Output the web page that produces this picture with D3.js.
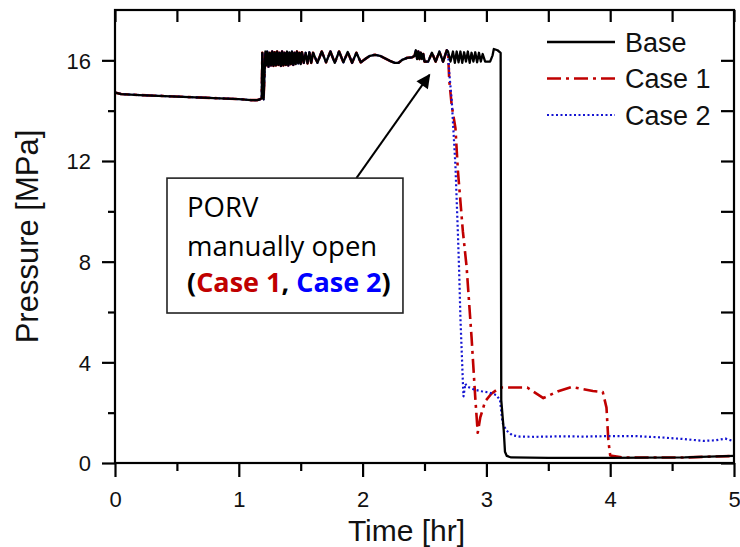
<!DOCTYPE html>
<html>
<head>
<meta charset="utf-8">
<script src="https://cdn.jsdelivr.net/npm/d3@7"></script>
<style>
  body { margin: 0; background: #ffffff; }
  svg { display: block; }
</style>
</head>
<body>
<svg id="chart" width="740" height="547"></svg>
<script>
// ---- data -----------------------------------------------------------------
const seriesNames  = ["Base", "Case 1", "Case 2"];
const seriesColors = ["#000000", "#c00000", "#1414d2"];

const xTickValues = [0, 1, 2, 3, 4, 5];
const xMinorTicks = [0.5, 1.5, 2.5, 3.5, 4.5];
const yTickValues = [0, 4, 8, 12, 16];
const yMinorTicks = [2, 6, 10, 14];

// [time (hr), pressure (MPa)] common to all three runs until the PORV opens
const sharedPressure = [
  [0, 14.72], [0.05, 14.66], [0.2, 14.62], [0.4, 14.58], [0.6, 14.54], [0.8, 14.5],
  [1.0, 14.46], [1.1, 14.42], [1.15, 14.42], [1.17, 14.45], [1.185, 14.5],
  [1.19, 16.3], [1.2, 14.45], [1.215, 16.35],
  [1.22, 15.8], [1.23, 16.35], [1.24, 15.75], [1.25, 16.3], [1.26, 15.8], [1.27, 16.35],
  [1.28, 15.78], [1.29, 16.32], [1.30, 15.8], [1.31, 16.35], [1.32, 15.82], [1.33, 16.3],
  [1.34, 15.78], [1.35, 16.35], [1.36, 15.8], [1.37, 16.3], [1.38, 15.82], [1.39, 16.35],
  [1.40, 15.8], [1.41, 16.32], [1.42, 15.85], [1.43, 16.35], [1.44, 15.82], [1.45, 16.3],
  [1.46, 15.85], [1.47, 16.35], [1.48, 15.88], [1.49, 16.3], [1.50, 15.85], [1.51, 16.32],
  [1.525, 15.9], [1.54, 16.3], [1.555, 15.88], [1.57, 16.32], [1.585, 15.9], [1.60, 16.3],
  [1.635, 15.9], [1.67, 16.35], [1.705, 15.92], [1.74, 16.35], [1.775, 15.9], [1.81, 16.35],
  [1.845, 15.92], [1.88, 16.33], [1.915, 15.9], [1.95, 16.3], [1.985, 15.92],
  [2.02, 16.05], [2.06, 16.18], [2.1, 16.22], [2.14, 16.18], [2.18, 16.08], [2.22, 15.98],
  [2.26, 15.9], [2.29, 15.9], [2.32, 16.02], [2.36, 16.1], [2.4, 16.12], [2.42, 16.18],
  [2.43, 16.4], [2.44, 16.05], [2.45, 16.35], [2.46, 16.05], [2.47, 16.3], [2.48, 16.05],
  [2.49, 16.25], [2.5, 15.95], [2.53, 15.95], [2.56, 16.3], [2.59, 15.95], [2.62, 16.35],
  [2.65, 15.95], [2.68, 16.4], [2.69, 16.35]
];

// Base: PORV stays closed, pressure cycles until the late depressurisation
const baseTail = [
  [2.71, 15.95], [2.73, 16.35], [2.745, 15.9], [2.76, 16.35], [2.775, 15.92], [2.79, 16.35],
  [2.805, 15.9], [2.82, 16.32], [2.835, 15.95], [2.85, 16.35], [2.865, 15.9], [2.88, 16.3],
  [2.895, 15.95], [2.91, 16.32], [2.925, 15.92], [2.94, 16.3], [2.955, 15.95], [2.97, 16.25],
  [2.99, 15.95], [3.03, 15.95], [3.05, 16.2], [3.06, 16.45], [3.09, 16.4], [3.115, 16.3],
  [3.12, 2.5], [3.14, 1.3], [3.15, 0.45], [3.165, 0.28], [3.2, 0.22], [3.5, 0.2],
  [4.0, 0.2], [4.6, 0.22], [5.0, 0.28]
];

// Case 1: PORV opened manually
const case1Tail = [
  [2.7, 15.2], [2.72, 14.2], [2.75, 13.3], [2.77, 11.6], [2.81, 9.2], [2.84, 7.8],
  [2.88, 5.0], [2.91, 2.6], [2.93, 1.2], [2.95, 1.8], [2.99, 2.45], [3.04, 2.75],
  [3.11, 3.0], [3.33, 3.0], [3.46, 2.58], [3.58, 2.85], [3.69, 3.02], [3.86, 2.86],
  [3.94, 2.82], [3.97, 2.2], [3.985, 0.9], [4.0, 0.3], [4.1, 0.22], [4.6, 0.22], [5.0, 0.28]
];

// Case 2: PORV opened manually
const case2Tail = [
  [2.7, 15.5], [2.72, 14.4], [2.75, 11.8], [2.77, 9.1], [2.78, 7.6], [2.79, 5.8],
  [2.8, 4.5], [2.81, 3.2], [2.815, 2.65], [2.83, 3.15], [2.84, 3.05], [2.9, 2.92],
  [2.96, 2.85], [3.02, 2.8], [3.08, 2.7], [3.11, 2.5], [3.13, 1.6], [3.16, 1.3],
  [3.21, 1.1], [3.27, 1.05], [3.4, 1.04], [3.6, 1.06], [3.8, 1.05], [4.0, 1.07],
  [4.2, 1.07], [4.4, 1.02], [4.6, 0.95], [4.75, 0.88], [4.85, 0.9], [4.93, 0.97], [5.0, 0.86]
];

const noteLines = ["PORV", "manually open"];

// ---- layout ---------------------------------------------------------------
const svg = d3.select("#chart");
const plot = { left: 115, right: 734, top: 10, bottom: 463 };

const x = d3.scaleLinear().domain([0, 5]).range([plot.left, plot.right]);
const y = d3.scaleLinear().domain([0, 18]).range([plot.bottom, plot.top]);

const tickFont = "'Liberation Sans', Arial, Helvetica, sans-serif";

// axes (ticks only; frame drawn separately)
function styleAxis(g) {
  g.select(".domain").remove();
  g.selectAll("line").attr("stroke", "#000").attr("stroke-width", 2.2);
}

svg.append("g").attr("transform", `translate(0,${plot.bottom})`)
  .call(d3.axisBottom(x).tickValues(xTickValues).tickSize(14).tickFormat(d3.format("d")))
  .call(styleAxis)
  .call(g => g.selectAll("text").attr("y", 44).attr("dy", 0)
    .attr("font-size", 22).attr("font-family", tickFont).attr("fill", "#111"));

svg.append("g").attr("transform", `translate(0,${plot.bottom})`)
  .call(d3.axisBottom(x).tickValues(xMinorTicks).tickSize(8).tickFormat(""))
  .call(styleAxis);

svg.append("g").attr("transform", `translate(${plot.left},0)`)
  .call(d3.axisLeft(y).tickValues(yTickValues).tickSize(13).tickFormat(d3.format("d")))
  .call(styleAxis)
  .call(g => g.selectAll("text").attr("x", -24).attr("dy", "0.36em")
    .attr("font-size", 22).attr("font-family", tickFont).attr("fill", "#111"));

svg.append("g").attr("transform", `translate(${plot.left},0)`)
  .call(d3.axisLeft(y).tickValues(yMinorTicks).tickSize(7).tickFormat(""))
  .call(styleAxis);

svg.append("g").attr("transform", `translate(0,${plot.top})`)
  .call(d3.axisTop(x).tickValues(xTickValues.concat(xMinorTicks)).tickSize(-12).tickFormat(""))
  .call(styleAxis);

svg.append("g").attr("transform", `translate(${plot.right},0)`)
  .call(d3.axisRight(y).tickValues(yTickValues.concat(yMinorTicks)).tickSize(-13).tickFormat(""))
  .call(styleAxis);

// axis titles
svg.append("text")
  .attr("x", (plot.left + plot.right) / 2 - 18).attr("y", 541)
  .attr("text-anchor", "middle")
  .attr("font-family", tickFont).attr("font-size", 30).attr("fill", "#111")
  .text("Time [hr]");

svg.append("text")
  .attr("transform", `translate(38,${(plot.top + plot.bottom) / 2}) rotate(-90)`)
  .attr("text-anchor", "middle")
  .attr("font-family", tickFont).attr("font-size", 31).attr("fill", "#111")
  .text("Pressure [MPa]");

// ---- series ---------------------------------------------------------------
svg.append("clipPath").attr("id", "plotClip")
  .append("rect")
  .attr("x", plot.left).attr("y", plot.top)
  .attr("width", plot.right - plot.left).attr("height", plot.bottom - plot.top);

const line = d3.line().x(d => x(d[0])).y(d => y(d[1]));
const series = [
  { name: seriesNames[1], data: sharedPressure.concat(case1Tail), color: seriesColors[1], width: 2.6, dash: "14,5,3,5" },
  { name: seriesNames[2], data: sharedPressure.concat(case2Tail), color: seriesColors[2], width: 2.2, dash: "2,2.5" },
  { name: seriesNames[0], data: sharedPressure.concat(baseTail),  color: seriesColors[0], width: 2.3, dash: null }
];

const lines = svg.append("g").attr("clip-path", "url(#plotClip)");
series.forEach(s => {
  lines.append("path")
    .datum(s.data)
    .attr("d", line)
    .attr("fill", "none")
    .attr("stroke", s.color)
    .attr("stroke-width", s.width)
    .attr("stroke-linejoin", "round")
    .attr("stroke-dasharray", s.dash);
});

// frame
svg.append("rect")
  .attr("x", plot.left).attr("y", plot.top)
  .attr("width", plot.right - plot.left).attr("height", plot.bottom - plot.top)
  .attr("fill", "none").attr("stroke", "#000").attr("stroke-width", 2.2);

// ---- legend ---------------------------------------------------------------
const legendOrder = [series[2], series[0], series[1]];
const legend = svg.append("g");
legendOrder.forEach((s, i) => {
  const ly = 42 + i * 36.5;
  legend.append("line")
    .attr("x1", 547).attr("x2", 615).attr("y1", ly).attr("y2", ly)
    .attr("stroke", s.color).attr("stroke-width", s.width)
    .attr("stroke-dasharray", s.dash);
  legend.append("text")
    .attr("x", 625).attr("y", ly + 9.5)
    .attr("font-family", tickFont).attr("font-size", 27).attr("fill", "#111")
    .text(s.name);
});

// ---- annotation -----------------------------------------------------------
svg.append("defs").append("marker")
  .attr("id", "arrowHead")
  .attr("viewBox", "0 0 10 10").attr("refX", 9).attr("refY", 5)
  .attr("markerWidth", 7.5).attr("markerHeight", 7).attr("markerUnits", "strokeWidth")
  .attr("orient", "auto")
  .append("path").attr("d", "M0,0 L10,5 L0,10 Z").attr("fill", "#000");

svg.append("line")
  .attr("x1", x(1.95)).attr("y1", y(11.32))
  .attr("x2", x(2.54)).attr("y2", y(15.42))
  .attr("stroke", "#000").attr("stroke-width", 2)
  .attr("marker-end", "url(#arrowHead)");

const box = { x0: x(0.42), x1: x(2.326), y0: y(11.32), y1: y(5.96) };
svg.append("rect")
  .attr("x", box.x0).attr("y", box.y0)
  .attr("width", box.x1 - box.x0).attr("height", box.y1 - box.y0)
  .attr("fill", "#fff").attr("stroke", "#222").attr("stroke-width", 1.6);

const noteFont = "'Open Sans', 'Noto Sans', sans-serif";
noteLines.forEach((t, i) => {
  svg.append("text")
    .attr("x", box.x0 + 20).attr("y", box.y0 + 39 + i * 39)
    .attr("font-family", noteFont).attr("font-size", 27.5).attr("fill", "#000")
    .text(t);
});
const caseLine = svg.append("text")
  .attr("x", box.x0 + 20).attr("y", box.y0 + 114)
  .attr("font-family", noteFont).attr("font-size", 27).attr("font-weight", "bold");
[["(", "#000"], [seriesNames[1], seriesColors[1]], [", ", "#000"],
 [seriesNames[2], "#0000ff"], [")", "#000"]].forEach(([t, c]) => {
  caseLine.append("tspan").attr("fill", c).text(t);
});
</script>
</body>
</html>
